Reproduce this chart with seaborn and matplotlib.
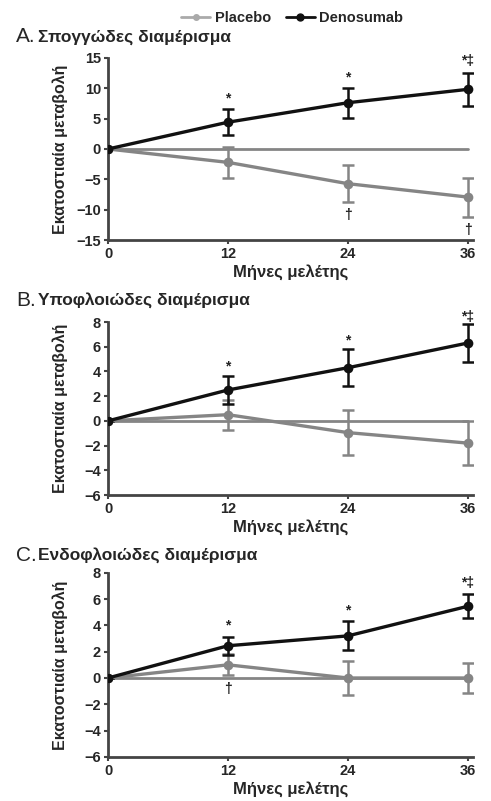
import matplotlib
matplotlib.use("Agg")
import matplotlib.pyplot as plt
from matplotlib.lines import Line2D
import pandas as pd
import seaborn as sns

months = [0, 12, 24, 36]
groups = ["Placebo", "Denosumab"]

# panel A - trabecular
a_den = [0, 4.4, 7.6, 9.8]
a_den_err = [0, 2.1, 2.5, 2.7]
a_pla = [0, -2.2, -5.7, -7.9]
a_pla_err = [0, 2.6, 3.0, 3.2]

# panel B - subcortical
b_den = [0, 2.5, 4.3, 6.3]
b_den_err = [0, 1.1, 1.5, 1.5]
b_pla = [0, 0.5, -0.95, -1.8]
b_pla_err = [0, 1.2, 1.8, 1.8]

# panel C - intracortical
c_den = [0, 2.45, 3.2, 5.45]
c_den_err = [0, 0.7, 1.1, 0.9]
c_pla = [0, 1.0, 0.0, 0.0]
c_pla_err = [0, 0.8, 1.3, 1.15]

titles = ["Σπογγώδες διαμέρισμα", "Υποφλοιώδες διαμέρισμα", "Ενδοφλοιώδες διαμέρισμα"]
letters = ["A.", "B.", "C."]
ylims = [(-15, 15), (-6, 8), (-6, 8)]
yticks = [[-15, -10, -5, 0, 5, 10, 15], [-6, -4, -2, 0, 2, 4, 6, 8], [-6, -4, -2, 0, 2, 4, 6, 8]]

# significance marks: (month, y, text)
marks = [
    [(12, 8.3, "*"), (24, 11.8, "*"), (36, 14.4, "*‡"), (24, -10.8, "†"), (36, -13.3, "†")],
    [(12, 4.4, "*"), (24, 6.5, "*"), (36, 8.4, "*‡")],
    [(12, 4.0, "*"), (24, 5.1, "*"), (36, 7.2, "*‡"), (12, -0.8, "†")],
]

den_color = "#111111"
pla_color = "#858585"

sns.set_style("ticks")
plt.rcParams["font.family"] = ["Liberation Sans", "DejaVu Sans"]
plt.rcParams["font.weight"] = "bold"

fig = plt.figure(figsize=(4.91, 8.01), dpi=100)
positions = [
    [0.22, 0.700, 0.743, 0.228],
    [0.22, 0.382, 0.743, 0.216],
    [0.22, 0.055, 0.743, 0.230],
]
title_y = [0.954, 0.625, 0.307]

panels = [
    (a_den, a_den_err, a_pla, a_pla_err),
    (b_den, b_den_err, b_pla, b_pla_err),
    (c_den, c_den_err, c_pla, c_pla_err),
]

for i, (den, den_err, pla, pla_err) in enumerate(panels):
    ax = fig.add_axes(positions[i])
    df = pd.DataFrame({
        "month": months * 2,
        "change": pla + den,
        "err": pla_err + den_err,
        "group": ["Placebo"] * 4 + ["Denosumab"] * 4,
    })
    # zero reference line
    ax.plot([0, 36], [0, 0], color=pla_color, lw=2, zorder=1)
    sns.lineplot(data=df, x="month", y="change", hue="group",
                 palette={"Placebo": pla_color, "Denosumab": den_color},
                 marker="o", markersize=7, markeredgewidth=0, lw=2.4,
                 legend=False, ax=ax, zorder=3)
    for g, c in [("Placebo", pla_color), ("Denosumab", den_color)]:
        sub = df[df["group"] == g]
        ax.errorbar(sub["month"], sub["change"], yerr=sub["err"], fmt="none",
                    ecolor=c, elinewidth=1.8, capsize=4, capthick=1.8, zorder=2)
    for mx, my, txt in marks[i]:
        ax.text(mx, my, txt, ha="center", va="center", fontsize=10,
                color="#222222", fontweight="bold")

    ax.set_xlim(0, 36.5)
    ax.set_ylim(*ylims[i])
    ax.set_xticks(months)
    ax.set_yticks(yticks[i])
    ax.set_yticklabels([str(t).replace("-", "−") for t in yticks[i]])
    ax.tick_params(axis="both", labelsize=10.5, width=1.5, length=3, color="#444444", pad=2)
    for lab in ax.get_xticklabels() + ax.get_yticklabels():
        lab.set_fontweight("bold")
    sns.despine(ax=ax)
    for sp in ["left", "bottom"]:
        ax.spines[sp].set_linewidth(2)
        ax.spines[sp].set_color("#444444")
    ax.set_xlabel("Μήνες μελέτης", fontsize=12, fontweight="bold", labelpad=2)
    ax.set_ylabel("Εκατοστιαία μεταβολή", fontsize=11.5, fontweight="bold")
    ax.yaxis.set_label_coords(-0.11, 0.5)

    fig.text(0.033, title_y[i], letters[i], fontsize=15, fontweight="normal",
             ha="left", va="center")
    fig.text(0.077, title_y[i], titles[i], fontsize=12.5, fontweight="bold",
             ha="left", va="center")

handles = [
    Line2D([], [], color="#aaaaaa", marker="o", markersize=4, lw=2),
    Line2D([], [], color=den_color, marker="o", markersize=5, lw=2),
]
fig.legend(handles, groups, loc="center", bbox_to_anchor=(0.595, 0.977), ncol=2,
           frameon=False, fontsize=10.5, handlelength=2.0, columnspacing=1.0,
           handletextpad=0.3)

fig.savefig("out.png", dpi=100)
